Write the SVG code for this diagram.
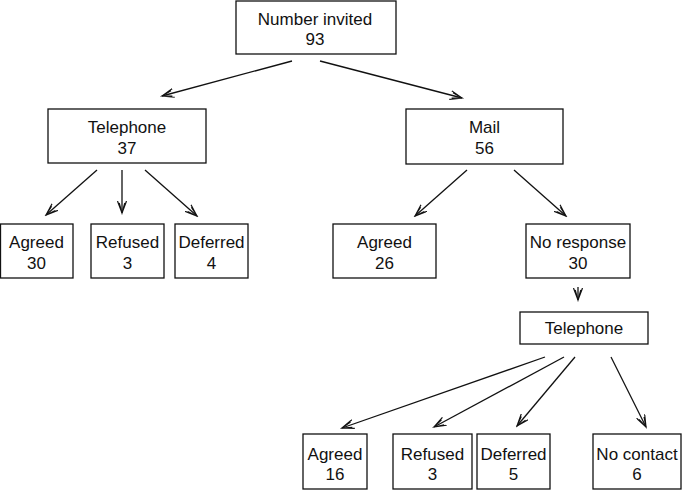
<svg xmlns="http://www.w3.org/2000/svg" width="685" height="491" viewBox="0 0 685 491">
<style>
.box{fill:#fff;stroke:#111;stroke-width:1.3}
.t{font-family:"Liberation Sans",Arial,sans-serif;font-size:17px;fill:#111;text-anchor:middle}
.c{stroke:#111;stroke-width:1.3;fill:none;marker-end:url(#ah)}
</style>
<defs>
<marker id="ah" markerWidth="14" markerHeight="10" refX="12" refY="5" orient="auto" markerUnits="userSpaceOnUse">
<path d="M0,0.5 L12,5 L0,9.5 M2,2.2 L12,5 L2,7.8" fill="none" stroke="#111" stroke-width="1.2"/>
</marker>
</defs>
<rect width="685" height="491" fill="#fff"/>
<g id="connectors">
<line class="c" x1="292" y1="61" x2="162" y2="96"/>
<line class="c" x1="320" y1="61" x2="462" y2="98"/>
<line class="c" x1="97" y1="170" x2="46" y2="215"/>
<line class="c" x1="122" y1="170" x2="122" y2="213"/>
<line class="c" x1="145" y1="170" x2="197" y2="216"/>
<line class="c" x1="467" y1="170" x2="415" y2="216"/>
<line class="c" x1="514" y1="170" x2="566" y2="216"/>
<line class="c" x1="578" y1="287" x2="578" y2="300"/>
<line class="c" x1="545" y1="357" x2="342" y2="428"/>
<line class="c" x1="564" y1="357" x2="434" y2="427"/>
<line class="c" x1="575" y1="357" x2="517" y2="426"/>
<line class="c" x1="611" y1="357" x2="646" y2="427"/>
</g>
<g id="n-invited"><rect class="box" x="236" y="1" width="160" height="53"/><text class="t" x="315" y="25">Number invited</text><text class="t" x="315" y="45">93</text></g>
<g id="n-telephone"><rect class="box" x="48" y="109" width="158" height="54"/><text class="t" x="127" y="133">Telephone</text><text class="t" x="127" y="154">37</text></g>
<g id="n-mail"><rect class="box" x="406" y="109" width="157" height="55"/><text class="t" x="484.5" y="133">Mail</text><text class="t" x="484.5" y="154">56</text></g>
<g id="n-t-agreed"><rect class="box" x="0.5" y="224" width="72.5" height="54"/><text class="t" x="36.5" y="248">Agreed</text><text class="t" x="36.5" y="269">30</text></g>
<g id="n-t-refused"><rect class="box" x="91" y="224" width="73" height="54"/><text class="t" x="127.5" y="248">Refused</text><text class="t" x="127.5" y="269">3</text></g>
<g id="n-t-deferred"><rect class="box" x="175" y="224" width="73" height="54"/><text class="t" x="211.5" y="248">Deferred</text><text class="t" x="211.5" y="269">4</text></g>
<g id="n-m-agreed"><rect class="box" x="333" y="224" width="103" height="54"/><text class="t" x="384.5" y="248">Agreed</text><text class="t" x="384.5" y="269">26</text></g>
<g id="n-noresponse"><rect class="box" x="526" y="224" width="104" height="54"/><text class="t" x="578" y="248">No response</text><text class="t" x="578" y="269">30</text></g>
<g id="n-telephone2"><rect class="box" x="520" y="312" width="128" height="32"/><text class="t" x="584" y="334">Telephone</text></g>
<g id="n-b-agreed"><rect class="box" x="303" y="434" width="64" height="55"/><text class="t" x="335" y="460">Agreed</text><text class="t" x="335" y="480">16</text></g>
<g id="n-b-refused"><rect class="box" x="393" y="434" width="79" height="55"/><text class="t" x="432.5" y="460">Refused</text><text class="t" x="432.5" y="480">3</text></g>
<g id="n-b-deferred"><rect class="box" x="477" y="434" width="73" height="55"/><text class="t" x="513.5" y="460">Deferred</text><text class="t" x="513.5" y="480">5</text></g>
<g id="n-b-nocontact"><rect class="box" x="593" y="434" width="88" height="55"/><text class="t" x="637" y="460">No contact</text><text class="t" x="637" y="480">6</text></g>
</svg>
